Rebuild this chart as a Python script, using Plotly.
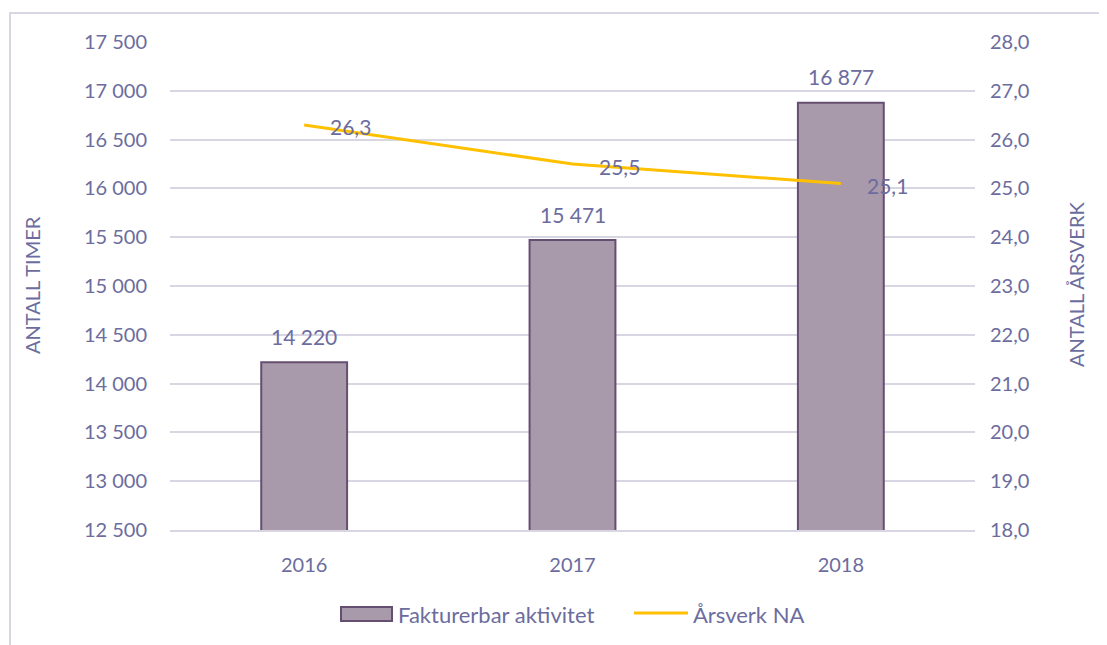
import plotly.graph_objects as go

years = ["2016", "2017", "2018"]
timer = [14220, 15471, 16877]
arsverk = [26.3, 25.5, 25.1]
left_ticks = [12500, 13000, 13500, 14000, 14500, 15000, 15500, 16000, 16500, 17000, 17500]
right_ticks = [18, 19, 20, 21, 22, 23, 24, 25, 26, 27, 28]

TXT = "#6C6C9E"
FONT = "Lato, 'Open Sans', sans-serif"
BAR = "#A899AB"
EDGE = "#654F70"
LINE = "#FFC000"
TICK = 20
LAB = 21

OFF = 8  # page body margin
W, H = 1107 - OFF, 645 - OFF
# target plot area in screen pixels: x 170..975, y 42..530
L, T = 170 - OFF, 42 - OFF
R, B = W - (975 - OFF), H - (530 - OFF)
PW, PH = W - L - R, H - T - B


def px(x):
    return (x - OFF - L) / PW


def py(y):
    return (H - B - (y - OFF)) / PH


fig = go.Figure()
fig.add_trace(go.Bar(
    x=years, y=timer, name="Fakturerbar aktivitet",
    marker=dict(color=BAR, line=dict(color=EDGE, width=2)),
    showlegend=False,
))
fig.add_trace(go.Scatter(
    x=years, y=arsverk, name="Årsverk NA", yaxis="y2", mode="lines",
    line=dict(color=LINE, width=3), showlegend=False,
))

annotations = []
for i, v in enumerate(timer):
    annotations.append(dict(x=i, y=v, xref="x", yref="y", text=f"{v:,}".replace(",", " "),
                            showarrow=False, yshift=26, xanchor="center", yanchor="middle",
                            font=dict(size=LAB, color=TXT)))
for i, v in enumerate(arsverk):
    annotations.append(dict(x=i, y=v, xref="x", yref="y2", text=f"{v:.1f}".replace(".", ","),
                            showarrow=False, xshift=24, xanchor="left", yanchor="middle", yshift=-2,
                            font=dict(size=LAB, color=TXT)))
annotations += [
    dict(x=px(32), y=py(285), xref="paper", yref="paper", text="ANTALL TIMER", textangle=-90,
         xanchor="center", yanchor="middle", showarrow=False, font=dict(size=20, color=TXT)),
    dict(x=px(1076), y=py(285), xref="paper", yref="paper", text="ANTALL ÅRSVERK", textangle=-90,
         xanchor="center", yanchor="middle", showarrow=False, font=dict(size=20, color=TXT)),
    dict(x=px(396), y=py(614), xref="paper", yref="paper", text="Fakturerbar aktivitet",
         xanchor="left", yanchor="middle", showarrow=False, font=dict(size=22, color=TXT)),
    dict(x=px(691), y=py(614), xref="paper", yref="paper", text="Årsverk NA",
         xanchor="left", yanchor="middle", showarrow=False, font=dict(size=22, color=TXT)),
]

shapes = [
    dict(type="rect", xref="paper", yref="paper",
         x0=px(10), x1=px(1130), y0=py(660), y1=py(13),
         line=dict(color="#D9D6E3", width=2), layer="below"),
    dict(type="rect", xref="paper", yref="paper",
         x0=px(341), x1=px(392), y0=py(621), y1=py(607),
         fillcolor=BAR, line=dict(color=EDGE, width=2)),
    dict(type="line", xref="paper", yref="paper",
         x0=px(634), x1=px(688), y0=py(613), y1=py(613),
         line=dict(color=LINE, width=3)),
]

fig.update_layout(
    width=W, height=H,
    margin=dict(l=L, r=R, t=T, b=B, autoexpand=False),
    paper_bgcolor="white", plot_bgcolor="white",
    separators=", ",
    font=dict(family=FONT, color=TXT, size=TICK),
    bargap=0.68,
    showlegend=False,
    xaxis=dict(type="category", range=[-0.5, len(years) - 0.5], showgrid=False, showline=True,
               linecolor="#D9D6E3", linewidth=2,
               ticks="", ticklabelstandoff=16, tickfont=dict(size=TICK, color=TXT)),
    yaxis=dict(range=[12500, 17500], tickvals=left_ticks, tickformat=",.0f",
               showgrid=True, gridcolor="#D9D6E3", gridwidth=2, zeroline=False,
               ticklabelstandoff=22, tickfont=dict(size=TICK, color=TXT)),
    yaxis2=dict(range=[18, 28], tickvals=right_ticks, tickformat=".1f",
                overlaying="y", side="right", showgrid=False, zeroline=False,
                ticklabelstandoff=14, tickfont=dict(size=TICK, color=TXT)),
    annotations=annotations,
    shapes=shapes,
)

fig.write_html("out.html")
